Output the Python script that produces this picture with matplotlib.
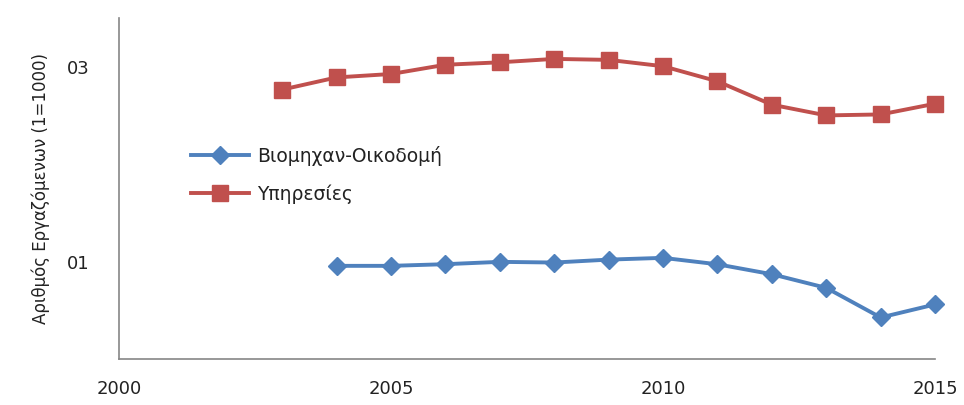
import matplotlib
matplotlib.use("Agg")
import matplotlib.pyplot as plt

years_ind = [2004, 2005, 2006, 2007, 2008, 2009, 2010, 2011, 2012, 2013, 2014, 2015]
industry = [9.56, 9.56, 9.73, 9.97, 9.9, 10.2, 10.38, 9.72, 8.7, 7.3, 4.26, 5.6]
years_srv = [2003, 2004, 2005, 2006, 2007, 2008, 2009, 2010, 2011, 2012, 2013, 2014, 2015]
services = [27.65, 28.9, 29.25, 30.2, 30.45, 30.8, 30.7, 30.05, 28.5, 26.1, 25.0, 25.1, 26.2]
label_ind = "Βιομηχαν-Οικοδομή"
label_srv = "Υπηρεσίες"
xticks = [2000, 2005, 2010, 2015]
yticks = [10, 30]
ytick_labels = ["01", "03"]
ylabel = "Αριθμός Εργαζόμενων (1=1000)"

plt.rcParams['font.family'] = ['DejaVu Sans']
fig = plt.figure(figsize=(9.64, 4.05), dpi=100)
ax = fig.add_axes([0.1234, 0.1136, 0.97 - 0.1234, 0.9556 - 0.1136])

ax.plot(years_ind, industry, color="#4F81BD", lw=2.8, marker="D", markersize=9.5,
        label=label_ind, solid_joinstyle="round", clip_on=False)
ax.plot(years_srv, services, color="#C0504D", lw=2.8, marker="s", markersize=11,
        label=label_srv, solid_joinstyle="round", clip_on=False)

ax.set_xlim(2000, 2015)
ax.set_ylim(0, 35)
ax.set_xticks(xticks)
ax.set_xticklabels([str(x) for x in xticks])
ax.set_yticks(yticks)
ax.set_yticklabels(ytick_labels)
ax.tick_params(axis="both", length=0, labelsize=13, colors="#222222")
ax.tick_params(axis="x", pad=15)
ax.tick_params(axis="y", pad=21)
for s in ["top", "right"]:
    ax.spines[s].set_visible(False)
for s in ["left", "bottom"]:
    ax.spines[s].set_color("#868686")
    ax.spines[s].set_linewidth(1.2)
ax.set_ylabel(ylabel, fontsize=12, color="#222222", labelpad=12)

leg = ax.legend(loc="upper left", bbox_to_anchor=(0.068, 0.675), frameon=False,
                fontsize=13.5, handlelength=3.1, labelspacing=1.0, handletextpad=0.4)
for t in leg.get_texts():
    t.set_color("#222222")

fig.savefig("out.png", dpi=100)
